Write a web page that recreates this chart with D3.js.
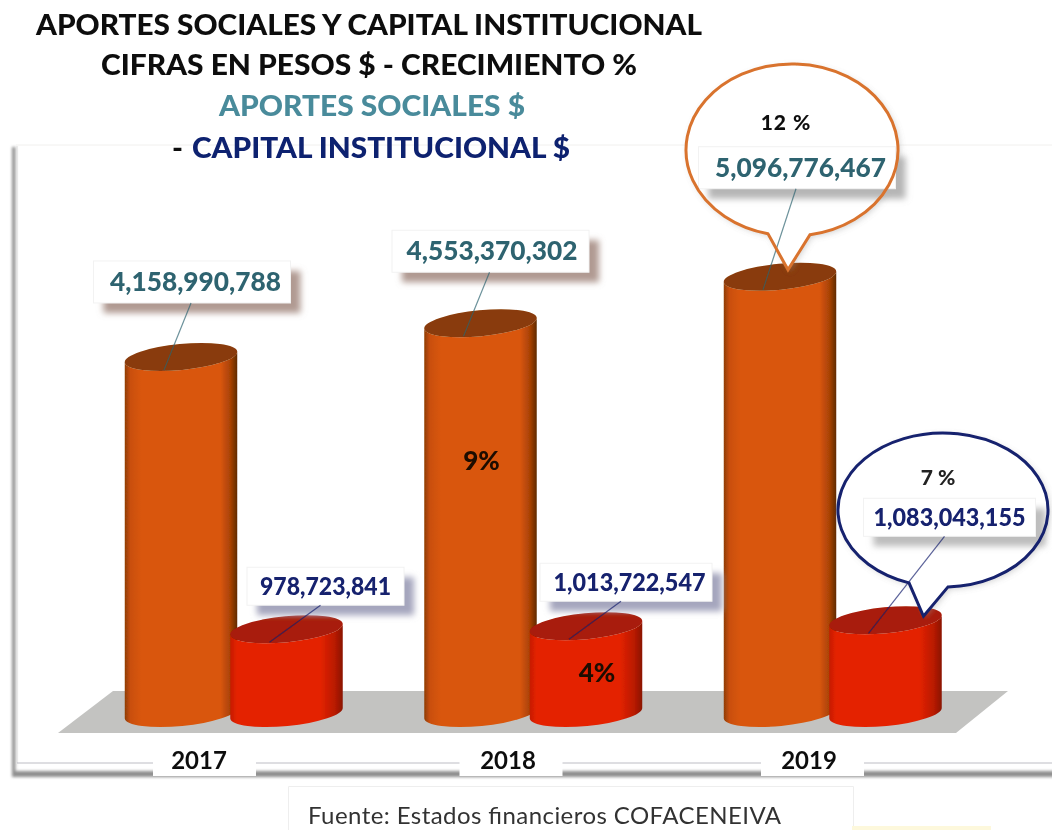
<!DOCTYPE html>
<html><head><meta charset="utf-8">
<script src="https://cdn.jsdelivr.net/npm/d3@7"></script>
<style>html,body{margin:0;padding:0;background:#fff}svg{display:block}text{font-family:Lato,"Open Sans",sans-serif}</style>
</head><body><div id="c"></div>
<script>
const years = ["2017","2018","2019"];
const aportes = [4158990788, 4553370302, 5096776467];
const capital = [978723841, 1013722547, 1083043155];
const growthAportes = [null, "9%", "12 %"];
const growthCapital = [null, "4%", "7 %"];
const titleLines = ["APORTES SOCIALES Y CAPITAL INSTITUCIONAL","CIFRAS EN PESOS $ - CRECIMIENTO %","APORTES SOCIALES $","CAPITAL INSTITUCIONAL $"];
const source = "Fuente: Estados financieros COFACENEIVA";

const W=1052,H=830;
const root=d3.select("#c").append("svg").attr("width",W).attr("height",H);
const defs=root.append("defs");
const soft=defs.append("filter").attr("id","soft").attr("filterUnits","userSpaceOnUse").attr("x",0).attr("y",0).attr("width",W).attr("height",H);
soft.append("feGaussianBlur").attr("stdDeviation",0.5);
const blur=defs.append("filter").attr("id","blur").attr("x","-20%").attr("y","-30%").attr("width","140%").attr("height","160%");
blur.append("feGaussianBlur").attr("stdDeviation",3);
const blurF=defs.append("filter").attr("id","blurF").attr("filterUnits","userSpaceOnUse").attr("x",0).attr("y",130).attr("width",1060).attr("height",660);
blurF.append("feGaussianBlur").attr("stdDeviation",1.4);
function grad(id,stops){const g=defs.append("linearGradient").attr("id",id);stops.forEach(s=>g.append("stop").attr("offset",s[0]).attr("stop-color",s[1]));}
grad("gO",[[0,"#8f3c06"],[0.05,"#c94f08"],[0.15,"#d9560a"],[0.85,"#d9560a"],[0.94,"#a84206"],[1,"#5f2a04"]]);
grad("gR",[[0,"#c61c04"],[0.06,"#e42204"],[0.8,"#e42204"],[0.93,"#b81a04"],[1,"#8a1404"]]);
root.append("rect").attr("width",W).attr("height",H).attr("fill","#fff");
const svg=root.append("g").attr("filter","url(#soft)");

// scales
const x=d3.scalePoint().domain(years).range([233,832]);
const y=d3.scaleLinear().domain([0,6e9]).range([713,199.4]);
const rx=56.5, ry=13, tilt=-5.5;
const off={a:-52,c:53.5};

// frame
const f=svg.append("g");
f.append("g").attr("filter","url(#blurF)").call(g=>{
  g.append("rect").attr("x",12).attr("y",147).attr("width",3.5).attr("height",628).attr("fill","#8f8f8f");
  g.append("rect").attr("x",12).attr("y",771).attr("width",1045).attr("height",6).attr("fill","#8f8f8f");
});
f.append("line").attr("x1",16).attr("x2",W).attr("y1",145).attr("y2",145).attr("stroke","#f1f0ee");
f.append("line").attr("x1",17).attr("x2",17).attr("y1",146).attr("y2",763).attr("stroke","#dcdcdc");
f.append("line").attr("x1",17).attr("x2",W).attr("y1",763).attr("y2",763).attr("stroke","#bdbdc4");

// floor
svg.append("polygon").attr("points","58,733 113,691 1008,691 956,733").attr("fill","#c3c3c1");

// year boxes
const boxShift=[-80,-73,-71], labelShift=[-34,-24.5,-23];
const xl=svg.append("g");
years.forEach((yr,i)=>{
  xl.append("rect").attr("x",x(yr)+boxShift[i]).attr("y",733).attr("width",103).attr("height",43).attr("fill","#fff");
  xl.append("text").attr("x",x(yr)+labelShift[i]).attr("y",769).attr("text-anchor","middle").attr("font-weight",700).attr("font-size",24).attr("fill","#111").text(yr);
});

// source
svg.append("path").attr("d","M288.5,830V786.5H853.5V830").attr("fill","#fff").attr("stroke","#eee");
svg.append("text").attr("x",308).attr("y",824).attr("font-size",24).attr("fill","#333").attr("textLength",473).attr("lengthAdjust","spacing").text(source);
svg.append("rect").attr("x",852).attr("y",826).attr("width",139).attr("height",4).attr("fill","#fdf8dc");

// cylinders
function cyl(g,cx,top,base,fill,topFill){
  const t=tilt*Math.PI/180, dx=rx*Math.cos(t), dy=rx*Math.sin(t);
  const lx=cx-dx, rxx=cx+dx;
  g.append("path").attr("d",`M${lx},${top-dy}A${rx},${ry} ${tilt} 0 0 ${rxx},${top+dy}L${rxx},${base+dy}A${rx},${ry} ${tilt} 0 1 ${lx},${base-dy}Z`).attr("fill",fill);
  g.append("ellipse").attr("cx",cx).attr("cy",top).attr("rx",rx).attr("ry",ry)
    .attr("transform",`rotate(${tilt} ${cx} ${top})`).attr("fill",topFill);
}
const bars=svg.append("g");
years.forEach((yr,i)=>cyl(bars,x(yr)+off.a,y(aportes[i]),y(0),"url(#gO)","#893a08"));
years.forEach((yr,i)=>cyl(bars,x(yr)+off.c,y(capital[i]),y(0),"url(#gR)","#a81a08"));

// in-bar growth labels
function pct(cx,cy,t){svg.append("text").attr("x",cx).attr("y",cy).attr("text-anchor","middle").attr("font-weight",900).attr("font-size",26).attr("fill","#1d0a04").text(t);}
pct(x(years[1])+off.a+1,y(3.0e9)+14,growthAportes[1]);
pct(x(years[1])+off.c+11,y(0.52e9)+13.5,growthCapital[1]);

// bubbles
function bubblePath(cx,cy,a,b,x1,tip,x2){
  const yy=v=>cy+b*Math.sqrt(1-((v-cx)/a)**2);
  return `M${x1},${yy(x1)}A${a},${b} 0 1 1 ${x2},${yy(x2)}L${tip[0]},${tip[1]}Z`;
}
const bx2019=x(years[2]);
const tipA=[bx2019+off.a+8,y(aportes[2])-7], tipC=[bx2019+off.c+38,y(capital[2])-4];
const dA=bubblePath(792,150,106,86,768,tipA,810);
const dC=bubblePath(943,510,105,77,909,tipC,948);
[dA,dC].forEach(d=>{
  svg.append("path").attr("d",d).attr("fill","#999").attr("opacity",.45).attr("filter","url(#blur)").attr("transform","translate(2,2)");
  svg.append("path").attr("d",d).attr("fill","#fff");
});

// value labels with leaders
const fmt=d3.format(",");
function label(v,cx,top,dx,dy,tdx,col,shadow,bw,bh,tw,fs){
  const lx=cx+dx, ly=top+dy;
  svg.append("rect").attr("x",lx-bw/2+10).attr("y",ly-bh/2+10).attr("width",bw).attr("height",bh).attr("fill",shadow).attr("filter","url(#blur)");
  svg.append("rect").attr("x",lx-bw/2).attr("y",ly-bh/2).attr("width",bw).attr("height",bh).attr("fill","#fff").attr("stroke","#f2f2f2");
  svg.append("line").attr("x1",cx-17).attr("y1",top+13).attr("x2",lx+(dx>30?-5:-1)).attr("y2",ly+bh/2).attr("stroke",col).attr("stroke-opacity",.7).attr("stroke-width",1.2);
  svg.append("text").attr("x",lx+tdx).attr("y",ly+fs*0.34).attr("text-anchor","middle").attr("font-weight",900).attr("font-size",fs).attr("fill",col)
    .attr("textLength",tw).attr("lengthAdjust","spacingAndGlyphs").text(fmt(v));
}
const aOff=[[11,-75,3.5],[10,-72,1.5],[17,-109,3.5]], cOff=[[39,-43,0],[40,-44,3.5],[64,-103,0]];
const aShadow=["#b09a92","#b09a92","#b5b5b5"], cShadow=["#a5a6bd","#a5a6bd","#bdbdbd"];
years.forEach((yr,i)=>label(aportes[i],x(yr)+off.a,y(aportes[i]),aOff[i][0],aOff[i][1],aOff[i][2],"#2e6470",aShadow[i],197,42,171,27));
years.forEach((yr,i)=>label(capital[i],x(yr)+off.c,y(capital[i]),cOff[i][0],cOff[i][1],cOff[i][2],"#15206e",cShadow[i],i==0?157:172,38,i==0?131:152,25));

// bubble outlines on top
svg.append("path").attr("d",dA).attr("fill","none").attr("stroke","#d9732d").attr("stroke-width",3);
svg.append("path").attr("d",dC).attr("fill","none").attr("stroke","#15206e").attr("stroke-width",3);
svg.append("text").attr("x",786).attr("y",130).attr("text-anchor","middle").attr("font-weight",900).attr("font-size",21).attr("letter-spacing",1).attr("fill","#111").text(growthAportes[2]);
svg.append("text").attr("x",938).attr("y",485).attr("text-anchor","middle").attr("font-weight",900).attr("font-size",21).attr("fill","#222").text(growthCapital[2]);

// title
const T=svg.append("g").attr("font-weight",900).attr("font-size",29);
function tline(t,xs,len,yy,col){T.append("text").attr("x",xs).attr("y",yy).attr("fill",col).attr("textLength",len).attr("lengthAdjust","spacingAndGlyphs").text(t);}
tline(titleLines[0],36,666,35,"#111");
tline(titleLines[1],101,536,75,"#111");
tline(titleLines[2],219,306,116,"#4a8b9b");
tline("-",172,11,158,"#111");
tline(titleLines[3],192,378,158,"#10206f");
</script></body></html>
